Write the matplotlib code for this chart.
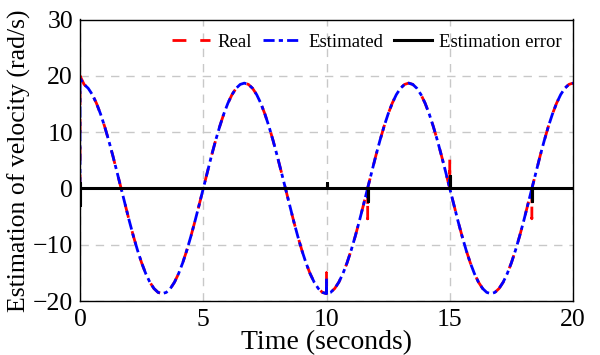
import numpy as np
import matplotlib
matplotlib.use("Agg")
import matplotlib.pyplot as plt

plt.rcParams['font.family'] = ['Liberation Serif', 'DejaVu Serif']

# Velocity every 1/6 s (one period = 40 samples)
period_vals = [18.70, 18.47, 17.78, 16.66, 15.13, 13.22, 10.99, 8.49, 5.78, 2.93,
               0.00, -2.93, -5.78, -8.49, -10.99, -13.22, -15.13, -16.66, -17.78, -18.47,
               -18.70, -18.47, -17.78, -16.66, -15.13, -13.22, -10.99, -8.49, -5.78, -2.93,
               0.00, 2.93, 5.78, 8.49, 10.99, 13.22, 15.13, 16.66, 17.78, 18.47]
velocity = period_vals * 3 + [18.70]
time = [k / 6 for k in range(len(velocity))]

# transient / switching spikes (time, real spike, estimated spike, error spike)
spike_t = [10.0, 11.67, 15.0, 18.33]
spike_real = [-15.0, -5.4, 5.4, -5.4]
spike_est = [-16.0, -1.5, 1.5, -1.5]
spike_err = [1.0, -2.2, 2.2, -2.2]
start_real = 20.0
start_est = 19.5
start_err_lo = -3.0
start_err_hi = 1.0


def with_spikes(t, v, st, sv, start):
    t = list(t); v = list(v)
    pts = list(zip(t, v))
    out_t, out_v = [0.0], [0.0]
    out_t.append(0.0); out_v.append(start)
    for ti, vi in pts[1:]:
        for s, sval in zip(st, sv):
            if out_t[-1] < s <= ti:
                base = np.interp(s, t, v)
                out_t += [s, s, s]
                out_v += [base, sval, base]
        out_t.append(ti); out_v.append(vi)
    return out_t, out_v


rt, rv = with_spikes(time, velocity, spike_t, spike_real, start_real)
et, ev = with_spikes(time, velocity, spike_t, spike_est, start_est)

err_t = [0.0, 0.0, 0.0, 0.0]
err_v = [0.0, start_err_lo, start_err_hi, 0.0]
for s, e in zip(spike_t, spike_err):
    err_t += [s, s, s]
    err_v += [0.0, e, 0.0]
err_t.append(20.0); err_v.append(0.0)

fig = plt.figure(figsize=(6.0, 3.55), dpi=100)
ax = fig.add_axes([80 / 600, 1 - 301 / 355, (573 - 80) / 600, (301 - 19.5) / 355])

ax.plot(rt, rv, color='red', lw=2.0, ls=(0, (5, 5)), label='Real')
ax.plot(et, ev, color='blue', lw=2.0, ls=(0, (4, 1.5, 1.5, 1.5)), label='Estimated')
ax.plot(err_t, err_v, color='black', lw=2.2, label='Estimation error')

ax.set_xlim(0, 20)
ax.set_ylim(-20, 30)
ax.set_xticks([0, 5, 10, 15, 20])
ax.set_yticks([-20, -10, 0, 10, 20, 30])
ax.grid(True, color='#c8c8c8', ls=(0, (6, 5)), lw=1.0)
ax.set_axisbelow(True)
ax.tick_params(length=0, labelsize=18.5)
ax.tick_params(axis='x', pad=6)
ax.tick_params(axis='y', pad=5)
ax.set_xlabel('Time (seconds)', fontsize=20, labelpad=-1)
ax.set_ylabel('Estimation of velocity (rad/s)', fontsize=18.5, labelpad=1)
for sp in ax.spines.values():
    sp.set_linewidth(1.0)

ax.legend(loc='upper right', ncol=3, frameon=False, fontsize=13.5,
          handlelength=2.0, handletextpad=0.4, columnspacing=0.6,
          bbox_to_anchor=(1.0, 0.99), borderaxespad=0.2)

fig.savefig('out.png', dpi=100)
